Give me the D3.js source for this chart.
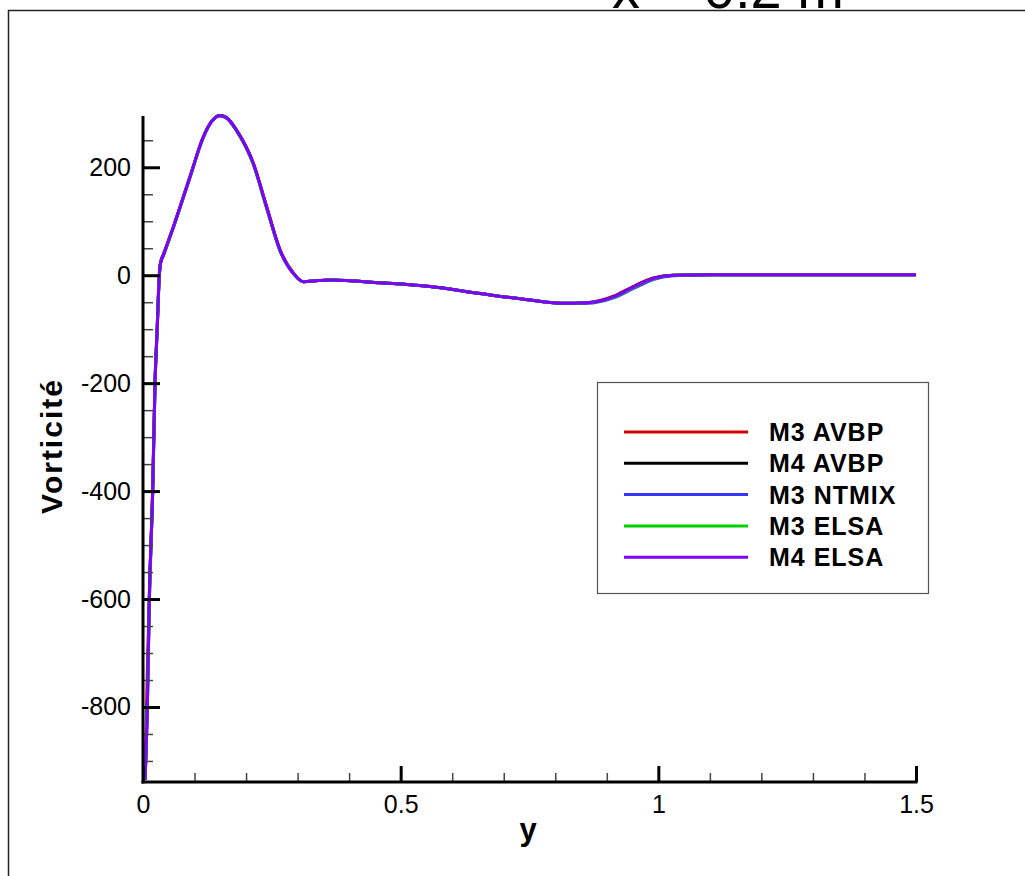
<!DOCTYPE html>
<html>
<head>
<meta charset="utf-8">
<script src="https://cdn.jsdelivr.net/npm/d3@7"></script>
<style>
  body { margin: 0; background: #fff; }
  svg { display: block; }
</style>
</head>
<body>
<script>
// wall-normal coordinate (m)
var yPos = [0.004, 0.0084, 0.0123, 0.0188, 0.0233, 0.0275, 0.0317, 0.034, 0.040, 0.047, 0.0589, 0.0912, 0.117, 0.135, 0.149, 0.162, 0.182, 0.214, 0.240, 0.266, 0.292, 0.311, 0.340, 0.363, 0.460, 0.557, 0.654, 0.751, 0.816, 0.861, 0.913, 0.951, 0.990, 1.029, 1.1, 1.2, 1.3, 1.4, 1.5];

var m3Avbp  = [-935, -730, -590, -395, -200, -100, 0, 24, 40, 58, 90, 183, 256, 287, 296, 292, 268, 208, 127, 47, 4, -12, -10, -9, -14, -21, -34, -46, -52, -51, -39, -21, -5, 0, 1, 1, 1, 1, 1];
var m4Avbp  = [-935, -800, -600, -400, -200, -100, 0, 22, 38, 57, 89, 182, 256, 287, 296, 292, 268, 207, 126, 46, 3, -12, -10, -9, -14, -21, -34, -46, -52, -51, -40, -22, -6, 0, 1, 1, 1, 1, 1];
var m3Ntmix = [-935, -800, -600, -400, -200, -100, 0, 22, 38, 57, 89, 182, 256, 287, 295, 291, 267, 206, 124, 45, 3, -12, -10, -9, -14, -21, -34, -46, -52, -52, -42, -25, -8, -1, 1, 1, 1, 1, 1];
var m3Elsa  = [-935, -790, -610, -405, -205, -100, 0, 21, 37, 56, 88, 181, 255, 287, 296, 292, 267, 205, 124, 45, 3, -12, -10, -9, -14, -21, -34, -46, -52, -51, -41, -23, -7, 0, 1, 1, 1, 1, 1];
var m4Elsa  = [-935, -800, -600, -400, -200, -100, 0, 22, 38, 57, 89, 182, 256, 287, 296, 292, 268, 207, 126, 46, 3, -12, -10, -9, -14, -21, -34, -46, -52, -51, -40, -22, -6, 0, 1, 1, 1, 1, 1];

var seriesNames  = ["M3 AVBP", "M4 AVBP", "M3 NTMIX", "M3 ELSA", "M4 ELSA"];
var seriesValues = [m3Avbp, m4Avbp, m3Ntmix, m3Elsa, m4Elsa];
var seriesColors = ["#d00000", "#000000", "#3535ff", "#00d000", "#8000ff"];

var xTicks = [0, 0.5, 1, 1.5];
var yTicks = [-800, -600, -400, -200, 0, 200];

function main(){
    var canvasWidth = 1025;
    var canvasHeight = 876;
    var labelFont = "'Liberation Sans', Arial, sans-serif";

    var svg = d3.select("body").append("svg")
        .attr("width", canvasWidth)
        .attr("height", canvasHeight)
        .attr("font-family", labelFont);

    // frame around the plot page
    svg.append("path")
        .attr("d", "M8.5," + canvasHeight + " V10.5 H" + canvasWidth)
        .attr("fill", "none")
        .attr("stroke", "#222")
        .attr("stroke-width", 1.5);

    // title, cut off by the top edge
    svg.append("text")
        .attr("x", 612)
        .attr("y", 8)
        .attr("font-size", "56px")
        .attr("fill", "#000")
        .text("x = 0.2 m");

    var xScale = d3.scaleLinear().domain([0, 1.5]).range([143, 916]);
    var yScale = d3.scaleLinear().domain([-939, 295]).range([782, 116]);

    // clip so the curves stop at the axes
    svg.append("clipPath").attr("id", "plotClip")
        .append("rect")
        .attr("x", 143).attr("y", 100)
        .attr("width", 800).attr("height", 682);

    var line = d3.line()
        .x(function(d){ return xScale(d[0]); })
        .y(function(d){ return yScale(d[1]); })
        .curve(d3.curveMonotoneX);

    var curves = svg.append("g").attr("clip-path", "url(#plotClip)");
    seriesValues.forEach(function(vals, i){
        var pts = yPos.map(function(y, j){ return [y, vals[j]]; });
        curves.append("path")
            .datum(pts)
            .attr("d", line)
            .attr("fill", "none")
            .attr("stroke", seriesColors[i])
            .attr("stroke-width", 3)
            .attr("stroke-linejoin", "round");
    });

    // Y axis (ticks pointing inside)
    svg.append("g")
        .attr("transform", "translate(143,0)")
        .call(d3.axisRight(yScale).tickValues(d3.range(-900, 295, 50)).tickSize(10).tickFormat(""))
        .call(function(g){ g.select(".domain").remove(); })
        .selectAll(".tick line").attr("stroke", "#444").attr("stroke-width", 1.5);
    svg.append("g")
        .attr("transform", "translate(143,0)")
        .call(d3.axisRight(yScale).tickValues(yTicks).tickSize(17).tickFormat(""))
        .call(function(g){ g.select(".domain").remove(); })
        .selectAll(".tick line").attr("stroke", "#000").attr("stroke-width", 3);
    svg.append("g")
        .attr("transform", "translate(143,0)")
        .call(d3.axisLeft(yScale).tickValues(yTicks).tickSize(0).tickPadding(12)
            .tickFormat(function(d){ return d < 0 ? "-" + Math.abs(d) : "" + d; }))
        .call(function(g){ g.select(".domain").remove(); })
        .selectAll("text")
        .attr("font-size", "25px")
        .attr("fill", "#000")
        .attr("font-family", labelFont);
    svg.append("line")
        .attr("x1", 143).attr("x2", 143)
        .attr("y1", 116).attr("y2", 783.5)
        .attr("stroke", "#000").attr("stroke-width", 3);

    // X axis (ticks pointing up)
    svg.append("g")
        .attr("transform", "translate(0,782)")
        .call(d3.axisTop(xScale).tickValues(d3.range(0.1, 1.5, 0.1)).tickSize(9).tickFormat(""))
        .call(function(g){ g.select(".domain").remove(); })
        .selectAll(".tick line").attr("stroke", "#444").attr("stroke-width", 1.5);
    svg.append("g")
        .attr("transform", "translate(0,782)")
        .call(d3.axisTop(xScale).tickValues(xTicks).tickSize(16).tickFormat(""))
        .call(function(g){ g.select(".domain").remove(); })
        .selectAll(".tick line").attr("stroke", "#000").attr("stroke-width", 3);
    svg.append("g")
        .attr("transform", "translate(0,782)")
        .call(d3.axisBottom(xScale).tickValues(xTicks).tickSize(0).tickPadding(13).tickFormat(d3.format("")))
        .call(function(g){ g.select(".domain").remove(); })
        .selectAll("text")
        .attr("font-size", "25px")
        .attr("fill", "#000")
        .attr("font-family", labelFont);
    svg.append("line")
        .attr("x1", 141.5).attr("x2", 917.5)
        .attr("y1", 782).attr("y2", 782)
        .attr("stroke", "#000").attr("stroke-width", 3);

    // axis titles
    svg.append("text")
        .attr("x", 528)
        .attr("y", 840)
        .attr("text-anchor", "middle")
        .attr("font-size", "31px")
        .attr("font-weight", "bold")
        .text("y");
    svg.append("text")
        .attr("transform", "translate(62,446) rotate(-90)")
        .attr("text-anchor", "middle")
        .attr("font-size", "30px")
        .attr("font-weight", "bold")
        .attr("letter-spacing", "2px")
        .text("Vorticité");

    // legend
    var legend = svg.append("g").attr("class", "legend");
    legend.append("rect")
        .attr("x", 597.5).attr("y", 382.5)
        .attr("width", 331).attr("height", 211)
        .attr("fill", "#fff")
        .attr("stroke", "#555")
        .attr("stroke-width", 1.2);
    seriesNames.forEach(function(name, i){
        var ly = 432 + i * 31.3;
        legend.append("line")
            .attr("x1", 624).attr("x2", 748)
            .attr("y1", ly).attr("y2", ly)
            .attr("stroke", seriesColors[i])
            .attr("stroke-width", 3);
        legend.append("text")
            .attr("x", 769)
            .attr("y", ly + 9)
            .attr("font-size", "25px")
            .attr("font-weight", "bold")
            .attr("letter-spacing", "1px")
            .text(name);
    });
}
main();
</script>
</body>
</html>
